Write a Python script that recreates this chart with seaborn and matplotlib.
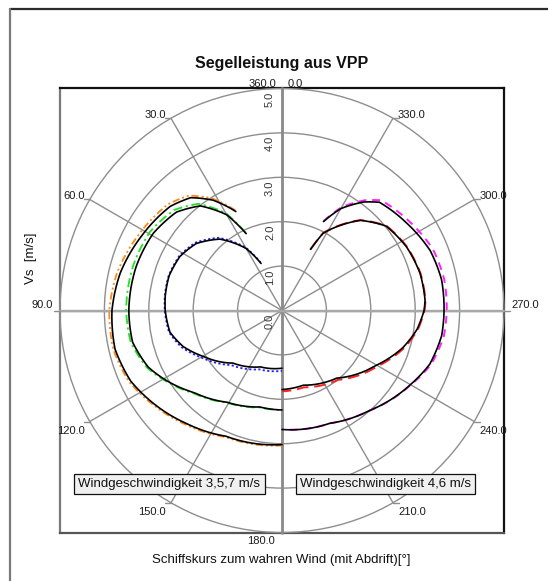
import numpy as np
import matplotlib
matplotlib.use("Agg")
import matplotlib.pyplot as plt
from matplotlib.lines import Line2D
import seaborn as sns

# --- boat speed polars (course to true wind in deg, boat speed Vs in m/s) ---
# port side: wind speeds 3, 5, 7 m/s
theta_3 = [24, 30, 41, 52, 62, 73, 83, 90, 101, 110, 120, 137, 159, 180]
vs_3_fit = [1.16, 1.61, 2.13, 2.45, 2.60, 2.66, 2.65, 2.63, 2.57, 2.37, 2.06, 1.62, 1.36, 1.30]
vs_3_vpp = [1.18, 1.64, 2.17, 2.48, 2.62, 2.67, 2.66, 2.64, 2.59, 2.41, 2.11, 1.68, 1.42, 1.36]

theta_5 = [25, 30, 38, 47, 59, 73, 90, 102, 113, 121, 133, 149, 167, 180]
vs_5_fit = [1.91, 2.49, 2.99, 3.25, 3.38, 3.43, 3.45, 3.44, 3.27, 3.05, 2.71, 2.41, 2.23, 2.24]
vs_5_vpp = [1.93, 2.53, 3.05, 3.32, 3.46, 3.50, 3.51, 3.48, 3.30, 3.07, 2.73, 2.42, 2.24, 2.24]

theta_7 = [25, 32, 39, 47, 62, 77, 90, 103, 115, 126, 140, 156, 180]
vs_7_fit = [2.46, 2.93, 3.27, 3.44, 3.58, 3.74, 3.83, 3.86, 3.76, 3.57, 3.33, 3.10, 3.02]
vs_7_vpp = [2.49, 2.98, 3.33, 3.51, 3.65, 3.81, 3.89, 3.90, 3.80, 3.60, 3.36, 3.12, 3.04]

# starboard side: wind speeds 4, 6 m/s (angle measured the other way round)
theta_4 = [25, 28, 41, 51, 63, 75, 86, 90, 98, 107, 120, 141, 164, 180]
vs_4_fit = [1.52, 1.97, 2.69, 3.02, 3.15, 3.22, 3.23, 3.20, 3.07, 2.85, 2.46, 1.96, 1.75, 1.78]
vs_4_vpp = [1.52, 1.98, 2.70, 3.03, 3.16, 3.23, 3.24, 3.21, 3.09, 2.88, 2.50, 2.01, 1.80, 1.82]

theta_6 = [25, 30, 37, 42, 55, 68, 79, 90, 99, 110, 120, 139, 157, 180]
vs_6_fit = [2.21, 2.65, 3.06, 3.28, 3.43, 3.60, 3.66, 3.65, 3.64, 3.54, 3.34, 2.99, 2.76, 2.68]
vs_6_vpp = [2.22, 2.69, 3.11, 3.34, 3.50, 3.67, 3.72, 3.71, 3.69, 3.57, 3.35, 2.99, 2.76, 2.68]

angle_ticks = [0, 30, 60, 90, 120, 150, 180, 210, 240, 270, 300, 330]
radial_ticks = [0.0, 1.0, 2.0, 3.0, 4.0, 5.0]
r_max = 5.0

title = "Segelleistung aus VPP"
x_label = "Schiffskurs zum wahren Wind (mit Abdrift)[°]"
y_label = "Vs  [m/s]"
box_left = "Windgeschwindigkeit 3,5,7 m/s"
box_right = "Windgeschwindigkeit 4,6 m/s"

sns.set_theme(style="white")
plt.rcParams["font.family"] = ["Liberation Sans", "DejaVu Sans"]

W, H = 548, 581
fig = plt.figure(figsize=(W / 100, H / 100), dpi=100)
fig.patch.set_facecolor("white")

# plot area in pixels
L, R, T, B = 60, 504, 88, 533
rect = [L / W, 1 - B / H, (R - L) / W, (B - T) / H]

# outer figure border (top and left)
fig.add_artist(Line2D([10 / W, 1], [1 - 8.5 / H] * 2, transform=fig.transFigure,
                      color="#2b2b2b", lw=1.6))
fig.add_artist(Line2D([10 / W] * 2, [0, 1 - 8.5 / H], transform=fig.transFigure,
                      color="#7a7a7a", lw=1.6))

# square frame with labels, same coordinates as the polar plane (m/s)
frame = fig.add_axes(rect)
frame.set_xlim(-r_max, r_max)
frame.set_ylim(-r_max, r_max)
frame.set_xticks([])
frame.set_yticks([])
frame.set_facecolor("white")
for side, col in [("top", "#111111"), ("right", "#111111"),
                  ("left", "#7a7a7a"), ("bottom", "#555555")]:
    frame.spines[side].set_visible(True)
    frame.spines[side].set_color(col)
    frame.spines[side].set_linewidth(1.6)
frame.set_zorder(0)

# polar plane
ax = fig.add_axes(rect, projection="polar")
ax.set_zorder(1)
ax.patch.set_alpha(0)
ax.set_theta_zero_location("N")
ax.set_theta_direction(1)
ax.set_ylim(0, r_max)
ax.set_yticks(radial_ticks[1:])
ax.set_yticklabels([])
ax.set_xticks(np.deg2rad(angle_ticks))
ax.set_xticklabels([])
ax.spines["polar"].set_visible(False)
ax.grid(True, color="#8e8e8e", lw=1.0)
for gl in ax.yaxis.get_gridlines():
    gl.set_clip_on(False)
ax.tick_params(length=0)

# heavier vertical and horizontal axes through the centre
for a, col, lw in [(0, "#8a8a8a", 2.0), (180, "#8a8a8a", 2.0),
                   (90, "#a8a8a8", 1.7), (270, "#a8a8a8", 1.7)]:
    ax.plot([np.deg2rad(a)] * 2, [0, r_max], color=col, lw=lw, zorder=1.5,
            clip_on=False)


def draw(theta, vs, color, ls, lw, starboard=False):
    th = np.asarray(theta, dtype=float)
    if starboard:
        th = 360.0 - th
    sns.lineplot(x=np.deg2rad(th), y=vs, ax=ax, color=color, linestyle=ls,
                 lw=lw, sort=False, estimator=None, legend=False, zorder=3)
    line = ax.lines[-1]
    line.recache(always=True)
    # render each segment along the polar grid (arc-like) instead of a chord
    line.get_path()._interpolation_steps = 24


draw(theta_3, vs_3_vpp, "#1f1fff", (0, (1.2, 1.3)), 1.3)
draw(theta_3, vs_3_fit, "black", "-", 1.2)
draw(theta_5, vs_5_vpp, "#22e022", (0, (5, 2, 1.2, 2)), 1.3)
draw(theta_5, vs_5_fit, "black", "-", 1.2)
draw(theta_7, vs_7_vpp, "#ff8a1a", (0, (4, 1.6, 1.1, 1.6, 1.1, 1.6)), 1.3)
draw(theta_7, vs_7_fit, "black", "-", 1.2)
draw(theta_4, vs_4_vpp, "#ff2020", (0, (6, 3)), 1.4, starboard=True)
draw(theta_4, vs_4_fit, "black", "-", 1.2, starboard=True)
draw(theta_6, vs_6_vpp, "#ff22ff", (0, (4, 3)), 1.4, starboard=True)
draw(theta_6, vs_6_fit, "black", "-", 1.2, starboard=True)
ax.set_xlabel("")
ax.set_ylabel("")

# transparent layer on top for labels and boxes
over = fig.add_axes(rect)
over.set_xlim(-r_max, r_max)
over.set_ylim(-r_max, r_max)
over.set_axis_off()
over.set_zorder(2)

# angle labels at the ends of the spokes
px = 1 / 44.4  # one pixel in plane units
lab_kw = dict(fontsize=8, color="#1a1a1a", clip_on=False)
for a in angle_ticks:
    rad = np.deg2rad(a)
    x0, y0 = -r_max * np.sin(rad), r_max * np.cos(rad)
    txt = f"{a:.1f}"
    if a == 0:
        over.text(x0 - 6 * px, y0 + 1 * px, "360.0", ha="right", va="baseline", **lab_kw)
        over.text(x0 + 6 * px, y0 + 1 * px, "0.0", ha="left", va="baseline", **lab_kw)
        continue
    if a == 180:
        over.text(x0 - 7 * px, y0 - 3 * px, txt, ha="right", va="top", **lab_kw)
        continue
    left = a < 180
    sgn = -1 if left else 1
    over.plot([x0, x0 + sgn * 6 * px], [y0, y0], color="#8e8e8e", lw=1.0,
              clip_on=False)
    ha = "right" if left else "left"
    if a in (90, 270):
        over.text(x0 + sgn * 7 * px, y0 + 2 * px, txt, ha=ha, va="baseline", **lab_kw)
    elif a in (30, 60, 300, 330):
        over.text(x0 + sgn * 5 * px, y0, txt, ha=ha, va="baseline", **lab_kw)
    else:
        over.text(x0 + sgn * 5 * px, y0 - 4 * px, txt, ha=ha, va="top", **lab_kw)

# radial labels along the vertical axis
for r in radial_ticks:
    over.text(-9 * px, r - 3.5 * px, f"{r:.1f}", rotation=90, rotation_mode="anchor",
              ha="right", va="baseline", fontsize=8, color="#333333")

# wind speed boxes
box_kw = dict(boxstyle="square,pad=0.32", fc="#f0f0f0", ec="#111111", lw=0.9)
over.text((169.4 - 282) * px, (310.5 - 483.8) * px, box_left, ha="center",
          va="center", fontsize=9.5, color="#111111", bbox=box_kw)
over.text((385.4 - 282) * px, (310.5 - 483.8) * px, box_right, ha="center",
          va="center", fontsize=9.5, color="#111111", bbox=box_kw)

fig.text(282 / W, 1 - 63.5 / H, title, ha="center", va="center",
         fontsize=11.5, fontweight="bold", color="#111111")
fig.text(281.5 / W, 1 - 559.5 / H, x_label, ha="center", va="center",
         fontsize=9.5, color="#111111")
fig.text(31 / W, 1 - 258 / H, y_label, ha="center", va="center", rotation=90,
         fontsize=9.5, color="#111111")

fig.savefig("out.png", dpi=100)
